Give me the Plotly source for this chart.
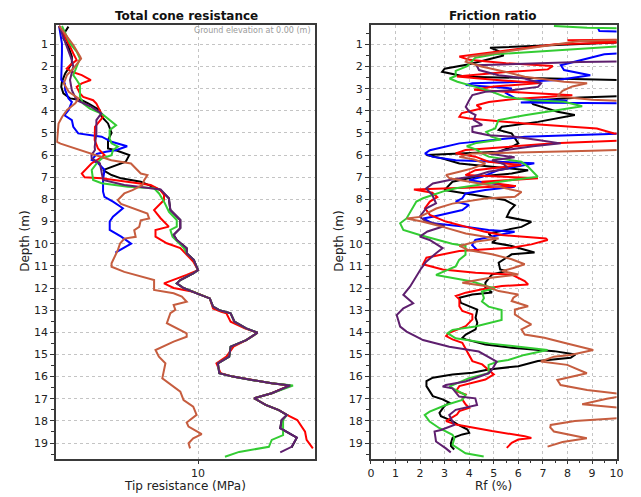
import plotly.graph_objects as go

# ---------------- Total cone resistance (MPa) ----------------
qc_black_depth = [0.2, 0.43, 0.73, 1.1, 1.56, 1.86, 2.31, 2.69, 2.92, 3.21, 3.44, 3.52, 3.67, 3.97, 4.27, 4.57, 5.0, 5.32, 5.7, 5.78, 6.0, 6.3, 6.68, 6.9, 7.05, 7.2, 7.58,
                  7.95, 8.48, 8.93, 9.3, 9.6, 9.83, 10.2, 10.43, 10.73, 11.19, 11.34, 11.64, 11.79, 12.0, 12.24, 12.47, 12.84, 13.0, 13.14, 13.52, 13.82, 14.02, 14.35, 14.65,
                  15.1, 15.4, 15.85, 16.0, 16.15, 16.3, 16.4, 16.75, 16.98, 17.28, 17.51, 17.73, 17.96, 18.33, 18.76, 19.2]
qc_black = [0.86, 0.63, 0.5, 0.86, 1.1, 1.1, 0.63, 0.4, 0.35, 0.5, 0.97, 1.8, 2.25, 3.06, 3.2, 3.65, 3.9, 3.65, 3.65, 4.2, 5.15, 4.9, 3.3, 3.9, 4.57, 5.96, 7.35,
            7.94, 8.05, 8.75, 8.75, 8.28, 8.5, 9.2, 9.2, 9.7, 10.0, 9.66, 8.75, 8.5, 8.98, 9.9, 10.83, 11.06, 11.5, 12.3, 12.57, 13.4, 14.2, 13.4, 12.3,
            12.2, 11.4, 11.5, 12.45, 13.8, 15.2, 16.5, 15.2, 13.96, 14.77, 15.7, 16.27, 15.9, 15.8, 16.97, 16.6]

qc_blue_depth = [0.17, 0.96, 1.4, 2.0, 2.6, 2.76, 3.07, 3.44, 3.6, 3.97, 4.2, 4.42, 4.72, 5.02, 5.1, 5.17, 5.4, 5.6, 5.78, 5.85, 5.95, 6.22, 6.37, 6.67, 7.12, 7.65, 7.88, 8.1, 8.4, 8.78, 9.0, 9.38, 9.68, 10.0, 10.4]
qc_blue = [0.2, 0.4, 0.4, 0.35, 0.35, 0.6, 0.63, 0.86, 1.1, 0.86, 0.58, 1.1, 1.2, 1.55, 2.5, 3.2, 3.9, 5.0, 4.2, 3.5, 2.85, 2.5, 2.96, 3.4, 3.3, 3.3, 3.4, 4.0, 4.7, 4.0, 3.77, 3.77, 4.58, 5.28, 4.17]

qc_red_depth = [0.17, 0.66, 1.1, 1.41, 1.71, 1.94, 2.09, 2.24, 2.39, 2.61, 2.76, 2.92, 3.21, 3.37, 3.52, 3.67, 3.97, 4.27, 4.72, 5.09, 5.32, 5.7, 6.0, 6.15, 6.38, 6.83, 7.0, 7.05, 7.2, 7.35, 7.58,
                7.8, 8.03, 8.48, 8.85, 9.23, 9.38, 9.68, 9.98, 10.2, 10.8, 11.19, 11.41, 11.79, 12.0, 12.17, 12.47, 12.92, 13.07, 13.14, 13.52, 13.82, 14.02, 14.35, 14.65,
                15.1, 15.4, 15.85, 16.0, 16.15, 16.3, 16.4, 16.75, 16.98, 17.28, 17.51, 17.73, 17.96, 18.49, 18.86, 19.24]
qc_red = [0.2, 0.63, 0.97, 1.2, 1.44, 0.97, 0.74, 1.1, 1.8, 2.44, 1.8, 1.44, 1.67, 1.9, 2.6, 2.83, 3.06, 3.3, 2.73, 2.73, 2.71, 2.94, 3.4, 3.06, 2.48, 1.8, 2.0, 3.18, 5.03, 6.66, 7.35,
          7.6, 7.6, 6.9, 7.36, 7.94, 7.0, 7.0, 7.8, 8.75, 9.66, 10.0, 9.2, 7.6, 8.28, 9.66, 10.83, 11.06, 11.64, 12.0, 12.3, 13.3, 14.2, 13.4, 12.5,
          12.0, 11.3, 11.6, 12.45, 13.8, 15.2, 16.5, 15.2, 13.96, 14.77, 15.7, 16.27, 17.0, 17.55, 17.66, 18.1]

qc_green_depth = [0.17, 0.5, 0.96, 1.33, 1.64, 2.0, 2.39, 2.61, 2.84, 3.37, 3.67, 3.9, 4.12, 4.65, 4.87, 5.25, 5.47, 5.62, 5.77, 6.0, 6.15, 6.37, 6.67, 7.12, 7.27, 7.43, 7.5, 7.73, 8.1, 8.56, 8.93, 9.23, 9.38, 9.68, 10.2, 10.43, 10.73, 11.19,
                  11.34, 11.64, 11.79, 12.0, 12.24, 12.47, 12.84, 13.0, 13.14, 13.52, 13.82, 14.02, 14.35, 14.65, 15.1, 15.4, 15.85, 16.0, 16.15, 16.3, 16.4, 16.75, 16.98, 17.28, 17.51, 17.73, 17.96, 18.64, 18.86, 19.17, 19.4, 19.62]
qc_green = [0.4, 0.63, 0.97, 1.44, 1.67, 1.44, 1.2, 1.44, 1.67, 1.67, 1.9, 2.37, 3.18, 4.22, 3.76, 3.76, 3.9, 4.35, 4.0, 3.9, 3.2, 2.85, 2.5, 2.6, 3.2, 5.05, 6.9, 7.25, 7.6, 7.95, 8.5, 8.5, 8.05, 8.2, 9.0, 9.2, 9.7, 10.0,
            9.66, 8.75, 8.5, 8.98, 9.9, 10.83, 11.06, 11.5, 12.3, 12.57, 13.4, 14.2, 13.4, 12.3, 12.2, 11.4, 11.5, 12.45, 13.8, 15.2, 16.7, 15.2, 13.96, 14.77, 15.7, 16.27, 16.0, 16.0, 15.2, 15.0, 12.9, 11.9]

qc_purple_depth = [0.17, 0.66, 1.26, 1.71, 2.0, 2.61, 3.07, 3.52, 3.82, 4.12, 4.42, 5.02, 5.63, 5.77, 6.0, 6.15, 6.37, 7.12, 7.35, 7.55,
                   7.95, 8.48, 8.93, 9.3, 9.6, 9.83, 10.2, 10.43, 10.73, 11.19, 11.34, 11.64, 11.79, 12.0, 12.24, 12.47, 12.84, 13.0, 13.14, 13.52, 13.82, 14.02, 14.35, 14.65,
                   15.1, 15.4, 15.85, 16.0, 16.15, 16.3, 16.4, 16.75, 16.98, 17.28, 17.51, 17.73, 17.96, 18.33, 18.76, 19.17, 19.42]
qc_purple = [0.2, 0.5, 0.86, 1.1, 1.2, 0.97, 1.1, 1.44, 2.48, 3.18, 2.83, 2.83, 2.71, 2.73, 2.48, 2.5, 3.08, 3.3, 4.8, 7.36,
             7.94, 8.05, 8.75, 8.75, 8.28, 8.5, 9.2, 9.2, 9.7, 10.0, 9.66, 8.75, 8.5, 8.98, 9.9, 10.83, 11.06, 11.5, 12.3, 12.57, 13.4, 14.2, 13.4, 12.3,
             12.2, 11.4, 11.5, 12.45, 13.8, 15.2, 16.5, 15.2, 13.96, 14.77, 15.7, 16.27, 15.9, 15.8, 16.97, 16.6, 15.8]

qc_brown_depth = [0.17, 0.66, 1.03, 1.56, 1.64, 2.08, 2.38, 2.76, 3.14, 3.44, 3.66, 3.96, 4.27, 4.57, 5.02, 5.4, 5.48, 5.93, 6.23, 6.38, 6.83, 6.9, 7.13, 7.35, 7.58, 7.73, 8.03, 8.2, 8.64, 8.86, 8.94, 9.24, 9.39, 9.69, 9.77, 9.99,
                  10.28, 10.88, 11.04, 11.27, 11.64, 11.94, 12.09, 12.24, 12.39, 12.62, 12.77, 12.99, 13.14, 13.59, 14.05, 14.2, 14.42, 14.8, 15.1, 15.4, 15.78, 16.08, 16.68, 17.06, 17.36, 17.73, 18.07, 18.26, 18.6, 18.79, 19.01, 19.24]
qc_brown = [0.2, 0.74, 1.2, 1.69, 1.75, 1.22, 0.76, 0.53, 0.88, 1.58, 1.34, 0.76, 0.42, 0.16, 0.12, 0.05, 0.3, 2.48, 3.88, 5.27, 5.96, 6.43, 6.2, 6.08, 5.38, 4.8, 4.34, 4.57, 6.43, 6.55, 5.96, 5.85, 5.5, 5.6, 4.8, 4.5,
            4.35, 3.9, 3.9, 4.8, 6.9, 6.9, 6.9, 8.28, 8.86, 9.2, 8.28, 8.4, 8.05, 7.8, 9.2, 9.2, 8.28, 7.0, 7.24, 7.7, 7.6, 7.48, 8.75, 8.98, 9.66, 9.9, 9.2, 9.33, 10.26, 9.66, 9.33, 9.44]

# ---------------- Friction ratio (%) ----------------
rf_black_depth = [0.2, 0.85, 0.9, 1.15, 1.3, 1.5, 1.9, 2.1, 2.24, 2.46, 2.62, 2.7, 3.3, 3.4, 3.55, 3.7, 4.04, 4.19, 4.5, 4.72, 4.87, 5.02, 5.47, 5.63, 5.85, 5.9, 5.95, 6.0, 6.15, 6.38, 6.53, 6.68, 6.83, 6.98, 7.2, 7.58,
                  7.73, 7.88, 8.03, 8.26, 8.49, 8.79, 9.01, 9.24, 9.39, 9.54, 9.84, 9.95, 10.1, 10.4, 10.48, 10.86, 11.16, 11.23, 11.39, 11.6, 11.76, 11.99, 12.2, 12.29, 12.44, 12.67, 12.9, 12.97,
                  13.34, 13.57, 13.87, 14.1, 14.25, 14.32, 14.55, 14.7, 14.85, 15.0, 15.15, 15.3, 15.53, 15.68, 15.83, 15.9, 16.05, 16.2, 16.43, 16.66, 16.88, 17.03, 17.18, 17.33, 17.64, 17.79,
                  18.01, 18.16, 18.39, 18.54, 18.61, 18.77, 18.99, 19.14, 19.29]
rf_black = [12, 12, 10.5, 4.85, 5.2, 5.4, 4.0, 3.0, 2.9, 3.86, 10.5, 11.0, 11.0, 8.5, 6.5, 6.6, 7.6, 8.3, 6.8, 5.33, 5.2, 5.73, 6.0, 5.73, 5.2, 4.26, 3.32, 2.26, 2.92, 3.6, 4.93, 6.4, 5.73, 4.26, 3.32, 2.99,
            3.86, 4.66, 5.46, 5.86, 5.66, 5.53, 6.53, 6.13, 5.46, 4.79, 5.06, 4.93, 5.73, 6.66, 5.73, 5.2, 5.26, 5.53, 4.93, 4.79, 4.66, 4.66, 4.93, 4.13, 3.6, 3.66, 4.13, 4.33,
            4.26, 4.33, 4.26, 3.86, 3.72, 3.86, 4.66, 5.73, 7.46, 8.33, 8.13, 6.8, 6.0, 4.79, 4.13, 3.32, 2.52, 2.26, 2.26, 2.39, 2.52, 2.92, 3.19, 2.99, 2.79, 2.85,
            3.32, 3.52, 3.93, 4.0, 3.72, 3.32, 3.26, 3.26, 3.39]

rf_blue_depth = [0.28, 0.4, 0.45, 1.35, 1.45, 1.94, 2.16, 2.39, 2.61, 2.69, 2.76, 2.84, 2.99, 3.2, 3.45, 3.55, 3.62, 3.67, 5.0, 5.1, 5.17, 5.47, 5.78, 5.93, 6.08, 6.23, 6.37, 6.68, 6.98, 7.13, 7.35, 7.43, 7.58, 7.73,
                 7.95, 8.1, 8.25, 8.48, 8.78, 8.86, 9.08, 9.23, 9.38, 9.46, 9.83, 10.06, 10.36]
rf_blue = [9.25, 9.3, 11, 11, 9.5, 7.73, 7.86, 8.93, 7.6, 6.26, 4.13, 3.86, 5.73, 5.5, 5.9, 8.0, 6.1, 11, 11, 8.0, 6.26, 3.6, 2.4, 2.2, 2.52, 3.45, 6.65, 5.19, 4.52, 3.99, 5.32, 5.85, 4.65, 3.85,
           3.72, 3.45, 3.99, 3.72, 2.52, 2.12, 2.52, 3.85, 4.79, 5.85, 4.25, 4.12, 4.39]

rf_green_depth = [0.17, 0.25, 0.3, 1.05, 1.1, 1.45, 1.6, 1.98, 2.2, 2.43, 2.54, 2.69, 2.92, 3.14, 3.37, 3.52, 3.59, 3.79, 4.2, 4.42, 4.8, 4.95, 5.17, 5.3, 5.45, 5.6, 5.75, 5.92, 6.07, 6.3, 6.52, 6.75, 6.98, 7.15,
                  7.28, 7.5, 7.65, 7.95, 8.1, 8.33, 8.56, 8.86, 9.08, 9.38, 9.61, 9.83, 10.0, 10.1, 10.5, 10.73, 11.03, 11.41, 11.56, 11.71, 11.94, 12.01, 12.16, 12.46, 12.61, 12.84, 12.99,
                  13.44, 13.74, 13.89, 14.04, 14.27, 14.5, 14.65, 14.8, 15.02, 15.25, 15.32, 15.47, 15.85, 16.07, 16.45, 16.6, 16.83, 17.05, 17.28, 17.58, 17.73, 18.03, 18.33, 18.63, 18.78,
                  19.08, 19.46, 19.61]
rf_green = [7.45, 8.8, 11, 11, 10, 5.05, 4.25, 3.92, 3.45, 3.45, 3.2, 3.52, 4.26, 4.93, 5.46, 6.53, 7.86, 8.6, 6.26, 5.19, 5.06, 4.7, 4.9, 5.3, 4.3, 3.9, 4.3, 4.52, 4.79, 6.12, 6.39, 6.6, 6.79, 5.6,
            4.79, 3.45, 2.92, 2.12, 1.85, 1.72, 1.59, 1.45, 1.19, 1.32, 1.99, 2.79, 3.3, 3.85, 3.85, 3.59, 3.45, 2.65, 3.45, 4.12, 4.79, 5.05, 4.52, 4.6, 4.52, 4.79, 5.32,
            5.32, 4.25, 3.32, 3.12, 3.45, 4.79, 6.12, 7.19, 6.25, 5.59, 5.19, 4.79, 4.79, 3.99, 3.19, 3.45, 3.85, 3.72, 3.05, 2.39, 2.19, 2.39, 2.79, 3.32, 3.4,
            3.32, 3.85, 4.59]

rf_red_depth = [0.2, 0.78, 0.82, 0.9, 1.0, 1.55, 1.7, 1.85, 1.98, 2.13, 2.25, 2.45, 2.6, 2.75, 2.9, 3.05, 3.2, 3.3, 3.45, 3.6, 3.75, 3.9, 4.1, 4.27, 4.35, 4.57, 4.8, 5.02, 5.1, 5.3, 5.47, 5.77, 5.92, 6.07,
                6.3, 6.45, 6.68, 6.9, 7.05, 7.2, 7.4, 7.55, 7.7, 7.9, 8.1, 8.4, 8.7, 9.0, 9.23, 9.45, 9.61, 9.68, 9.76, 9.83, 10.03, 10.18, 10.26, 10.33, 10.63, 10.93, 11.16, 11.31, 11.39,
                11.69, 11.84, 11.91, 12.06, 12.21, 12.36, 12.51, 12.82, 13.04, 13.19, 13.42, 13.72, 14.02, 14.17, 14.32, 14.47, 14.77, 15.08, 15.3, 15.45, 15.68, 15.83, 15.9, 16.13, 16.28,
                16.43, 16.66, 16.81, 17.03, 17.26, 17.41, 17.56, 17.71, 18.01, 18.16, 18.46, 18.69, 18.77, 18.84, 18.99, 19.22]
rf_red = [11, 11, 8.0, 10.5, 7.5, 3.6, 4.0, 5.5, 7.4, 7.2, 5.5, 3.5, 5.0, 6.9, 5.0, 4.2, 6.5, 8.2, 6.0, 4.8, 4.3, 4.5, 3.7, 3.6, 4.0, 6.26, 9.2, 9.9, 11, 11, 7.45, 3.85, 3.45, 4.25,
          4.79, 6.12, 4.25, 3.85, 6.8, 4.5, 5.9, 1.75, 2.5, 2.7, 2.4, 2.2, 2.4, 3.05, 3.85, 4.6, 5.32, 6.12, 7.12, 7.19, 6.53, 5.73, 4.53, 3.6, 2.26, 2.12, 2.92, 4.26, 5.73,
          6.26, 6.4, 5.33, 4.53, 3.86, 3.46, 3.6, 3.6, 3.72, 4.13, 4.13, 3.86, 3.19, 3.06, 3.32, 3.72, 3.86, 4.0, 4.13, 4.53, 4.79, 4.93, 5.0, 4.66, 4.13,
          3.6, 3.46, 3.86, 3.72, 3.86, 4.0, 3.6, 3.5, 3.06, 3.46, 4.93, 6.26, 6.53, 6.0, 5.73, 5.53]

rf_purple_depth = [0.2, 1.75, 1.8, 1.86, 1.94, 2.16, 2.39, 2.54, 2.76, 2.92, 3.07, 3.14, 3.29, 3.52, 3.82, 4.04, 4.19, 4.42, 4.64, 4.72, 4.95, 5.1, 5.17, 5.32, 5.47, 5.6, 5.78, 5.93, 6.1, 6.23, 6.4, 6.6,
                   6.75, 6.95, 7.1, 7.28, 7.5, 7.8, 8.18, 8.4, 8.78, 9.01, 9.2, 9.45, 9.68, 9.83, 10.2, 10.43, 10.81, 11.11, 11.49, 11.94, 12.31, 12.54, 12.69, 12.92, 13.22, 13.74, 13.97,
                   14.2, 14.35, 14.65, 14.87, 15.32, 15.7, 15.85, 16.22, 16.38, 16.45, 16.53, 16.9, 16.98, 17.28, 17.5, 17.73, 18.18, 18.41, 18.48, 18.93, 19.24, 19.42]
rf_purple = [11, 11, 8.5, 6.26, 4.3, 4.4, 5.2, 6.26, 6.93, 6.8, 5.73, 4.66, 4.13, 4.0, 3.86, 4.0, 4.26, 4.19, 4.53, 4.13, 4.13, 4.79, 5.86, 6.8, 7.73, 6.6, 5.46, 4.79, 5.85, 4.93, 5.4, 5.59,
             4.79, 4.2, 3.3, 2.52, 2.25, 2.5, 2.65, 2.25, 1.99, 2.25, 3.0, 2.3, 1.99, 2.39, 2.92, 2.65, 2.25, 2.05, 1.85, 1.59, 1.32, 1.59, 1.72, 1.32, 1.05, 1.19, 1.45,
             1.85, 2.12, 3.19, 4.39, 5.12, 4.92, 4.79, 3.85, 3.05, 2.92, 3.32, 3.59, 4.25, 4.32, 3.45, 3.19, 3.39, 2.85, 2.59, 2.65, 3.05, 3.25]

rf_brown_depth = [0.2, 0.78, 0.85, 1.1, 1.3, 1.56, 1.78, 2.0, 2.24, 2.46, 2.69, 2.76, 2.9, 3.1, 3.34, 3.5, 3.6, 5.75, 5.8, 5.85, 5.93, 6.08, 6.2, 6.38, 6.6, 6.75, 6.9, 7.05, 7.2, 7.43, 7.66, 7.88, 7.96,
                  8.19, 8.41, 8.64, 8.79, 8.86, 9.01, 9.24, 9.54, 9.69, 9.77, 9.9, 10.1, 10.3, 10.48, 10.7, 10.93, 11.1, 11.23, 11.39, 11.55, 11.76, 11.91, 12.14, 12.29, 12.44, 12.59, 12.82,
                  12.97, 13.19, 13.49, 13.64, 13.87, 14.1, 14.25, 14.47, 14.62, 14.8, 15.02, 15.1, 15.32, 15.47, 15.85, 16.15, 16.38, 16.6, 16.83, 17.0, 17.25, 17.45, 17.85, 18.0, 18.18,
                  18.3, 18.48, 18.65, 18.78, 18.95, 19.16]
rf_brown = [11, 11, 8.5, 6.93, 5.5, 4.0, 3.86, 4.5, 5.46, 6.26, 7.86, 8.8, 8.2, 7.8, 7.59, 9.0, 11, 11, 9.0, 6.8, 4.13, 3.6, 4.2, 4.66, 4.13, 3.6, 3.06, 3.2, 4.0, 5.2, 6.13, 5.86, 4.66,
            3.32, 2.66, 2.26, 1.99, 1.46, 2.12, 2.92, 3.86, 4.66, 5.2, 4.3, 3.6, 4.0, 4.93, 5.73, 6.26, 5.8, 5.33, 6.0, 4.8, 3.72, 4.66, 5.2, 6.0, 5.8, 5.73, 6.4,
            5.86, 5.86, 6.26, 6.53, 6.13, 6.26, 7.06, 7.86, 8.4, 9.05, 8.12, 7.45, 6.92, 7.99, 8.79, 7.59, 7.72, 8.8, 10.5, 9.6, 8.6, 10.5, 10.5, 8.3, 7.32,
            7.3, 7.45, 8.3, 8.79, 7.8, 7.19]

depth_ticks = list(range(1, 20))
qc_ticks = [10]
rf_ticks = list(range(0, 11))

COL = {"black": "#000000", "blue": "#0000ff", "red": "#ff0000", "green": "#33cc33",
       "purple": "#5e1f6e", "brown": "#c65d3f"}

# The page body has an 8 px margin, so the figure starts at (8, 8) in the window.
OFF = 8
W, H = 641 - OFF, 497 - OFF
def px(x):
    return (x - OFF) / W
def py(y):
    return 1 - (y - OFF) / H

fig = go.Figure()

left = [("black", qc_black, qc_black_depth), ("blue", qc_blue, qc_blue_depth), ("red", qc_red, qc_red_depth),
        ("green", qc_green, qc_green_depth), ("purple", qc_purple, qc_purple_depth), ("brown", qc_brown, qc_brown_depth)]
right = [("black", rf_black, rf_black_depth), ("blue", rf_blue, rf_blue_depth), ("red", rf_red, rf_red_depth),
         ("green", rf_green, rf_green_depth), ("purple", rf_purple, rf_purple_depth), ("brown", rf_brown, rf_brown_depth)]

for name, xs, ds in left:
    fig.add_trace(go.Scatter(x=xs, y=ds, mode="lines", line=dict(color=COL[name], width=2),
                             xaxis="x", yaxis="y", showlegend=False, hoverinfo="skip"))
for name, xs, ds in right:
    fig.add_trace(go.Scatter(x=xs, y=ds, mode="lines", line=dict(color=COL[name], width=2),
                             xaxis="x2", yaxis="y2", showlegend=False, hoverinfo="skip"))

FONT = "DejaVu Sans, Verdana, sans-serif"
grid = dict(showgrid=True, gridcolor="#c4c4c4", griddash="dot", gridwidth=1)
line = dict(showline=True, mirror=True, linecolor="#3a3a3a", linewidth=2)
tickfont = dict(family=FONT, size=11, color="#222")

yrange = [19.72, 0.126]
ydom = [py(459), py(25)]

yax = dict(range=yrange, domain=ydom, tickmode="array", tickvals=depth_ticks, ticks="outside", ticklen=4, tickcolor="#333",
           tickfont=tickfont, zeroline=False,
           minor=dict(dtick=0.5, tick0=0, ticks="outside", ticklen=3, tickcolor="#333", showgrid=False),
           **grid, **line)

fig.update_layout(
    width=W, height=H,
    margin=dict(l=0, r=0, t=0, b=0),
    paper_bgcolor="white", plot_bgcolor="white",
    font=dict(family=FONT, size=11, color="#222"),
    xaxis=dict(domain=[px(54), px(317)], range=[0, 18.26], anchor="y", tickmode="array", tickvals=qc_ticks,
               ticks="outside", ticklen=3, tickcolor="#333", tickfont=tickfont, zeroline=False, **grid, **line),
    yaxis=dict(anchor="x", **yax),
    xaxis2=dict(domain=[px(373.7), px(623.3)], range=[0, 10], anchor="y2", tickmode="array", tickvals=rf_ticks,
                ticks="outside", ticklen=3, tickcolor="#333", tickfont=tickfont, zeroline=False,
                minor=dict(dtick=0.5, tick0=0, ticks="outside", ticklen=2, tickcolor="#333", showgrid=False),
                **grid, **line),
    yaxis2=dict(anchor="x2", **yax),
)

# panel titles, anchored at the top edge of the figure so they are not clipped
for t, xc in [("<b>Total cone resistance</b>", 186), ("<b>Friction ratio</b>", 498)]:
    fig.add_annotation(xref="paper", yref="paper", showarrow=False, x=px(xc), y=1.0, xanchor="center", yanchor="top",
                       text=t, borderpad=0, font=dict(size=12, family=FONT, color="#111"))

ann = [
    dict(text="Tip resistance (MPa)", x=px(185), y=py(486), font=dict(size=12, family=FONT, color="#222")),
    dict(text="Rf (%)", x=px(498), y=py(486), font=dict(size=12, family=FONT, color="#222")),
    dict(text="Depth (m)", x=px(22), y=py(241), textangle=-90, font=dict(size=12, family=FONT, color="#222")),
    dict(text="Depth (m)", x=px(341), y=py(241), textangle=-90, font=dict(size=12, family=FONT, color="#222")),
]
for a in ann:
    fig.add_annotation(xref="paper", yref="paper", showarrow=False, xanchor="center", yanchor="middle", borderpad=0, **a)
fig.add_annotation(xref="paper", yref="paper", showarrow=False, x=px(315), y=py(30), xanchor="right", yanchor="middle",
                   text="Ground elevation at 0.00 (m)", font=dict(size=8, family=FONT, color="#9a9a9a"))

fig.write_html("out.html")
